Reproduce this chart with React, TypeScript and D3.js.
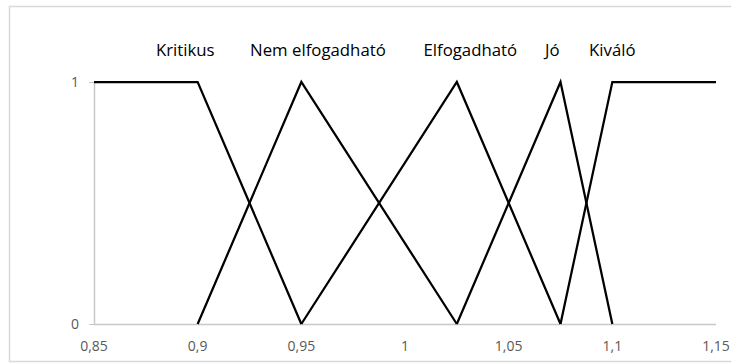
import React from "react";
import * as d3 from "d3";

const seriesNames = ["Kritikus", "Nem elfogadható", "Elfogadható", "Jó", "Kiváló"];
const kritikus: [number, number][] = [[0.85, 1], [0.9, 1], [0.95, 0]];
const nemElfogadhato: [number, number][] = [[0.9, 0], [0.95, 1], [1.025, 0]];
const elfogadhato: [number, number][] = [[0.95, 0], [1.025, 1], [1.075, 0]];
const jo: [number, number][] = [[1.025, 0], [1.075, 1], [1.1, 0]];
const kivalo: [number, number][] = [[1.075, 0], [1.1, 1], [1.15, 1]];
const labelX = [0.894, 0.958, 1.0315, 1.0710, 1.1];
const xTicks = [0.85, 0.9, 0.95, 1, 1.05, 1.1, 1.15];
const yTicks = [0, 1];

const W = 731;
const H = 363;
const FONT = "'Open Sans', 'Noto Sans', sans-serif";

export default function App() {
  const x = d3.scaleLinear().domain([0.85, 1.15]).range([94, 716]);
  const y = d3.scaleLinear().domain([0, 1]).range([324, 82]);
  const line = d3
    .line<[number, number]>()
    .x((d) => x(d[0]))
    .y((d) => y(d[1]));
  const allSeries = [kritikus, nemElfogadhato, elfogadhato, jo, kivalo];
  const fmt = (v: number) => String(v).replace(".", ",");
  return (
    <div style={{ position: "absolute", left: 0, top: 0 }}>
      <svg width={W} height={H} style={{ display: "block" }}>
        <rect x={0} y={0} width={W} height={H} fill="#fff" />
        <rect x={9.5} y={6.5} width={740} height={355} fill="none" stroke="#d9d9d9" strokeWidth={1.5} />
        {/* axes */}
        <line x1={x(0.85)} x2={x(1.15)} y1={y(0) + 0.5} y2={y(0) + 0.5} stroke="#c8c8c8" strokeWidth={1.5} />
        <line x1={x(0.85) + 0.5} x2={x(0.85) + 0.5} y1={y(1)} y2={y(0)} stroke="#c8c8c8" strokeWidth={1.5} />
        {yTicks.map((t) => (
          <g key={t}>
            <line x1={x(0.85) - 5} x2={x(0.85)} y1={y(t) + 0.5} y2={y(t) + 0.5} stroke="#c8c8c8" strokeWidth={1} />
            <text
              x={x(0.85) - 15}
              y={y(t)}
              dy="0.35em"
              textAnchor="end"
              fontFamily={FONT}
              fontSize={14}
              fill="#595959"
            >
              {fmt(t)}
            </text>
          </g>
        ))}
        {xTicks.map((t) => (
          <text
            key={t}
            x={x(t)}
            y={351}
            textAnchor="middle"
            fontFamily={FONT}
            fontSize={14}
            fill="#595959"
          >
            {fmt(t)}
          </text>
        ))}
        {allSeries.map((s, i) => (
          <path key={i} d={line(s) || ""} fill="none" stroke="#000" strokeWidth={2.25} strokeLinejoin="miter" />
        ))}
        {seriesNames.map((n, i) => (
          <text
            key={n}
            x={x(labelX[i])}
            y={56}
            textAnchor="middle"
            fontFamily={FONT}
            fontSize={16.8}
            fill="#000"
          >
            {n}
          </text>
        ))}
      </svg>
    </div>
  );
}
